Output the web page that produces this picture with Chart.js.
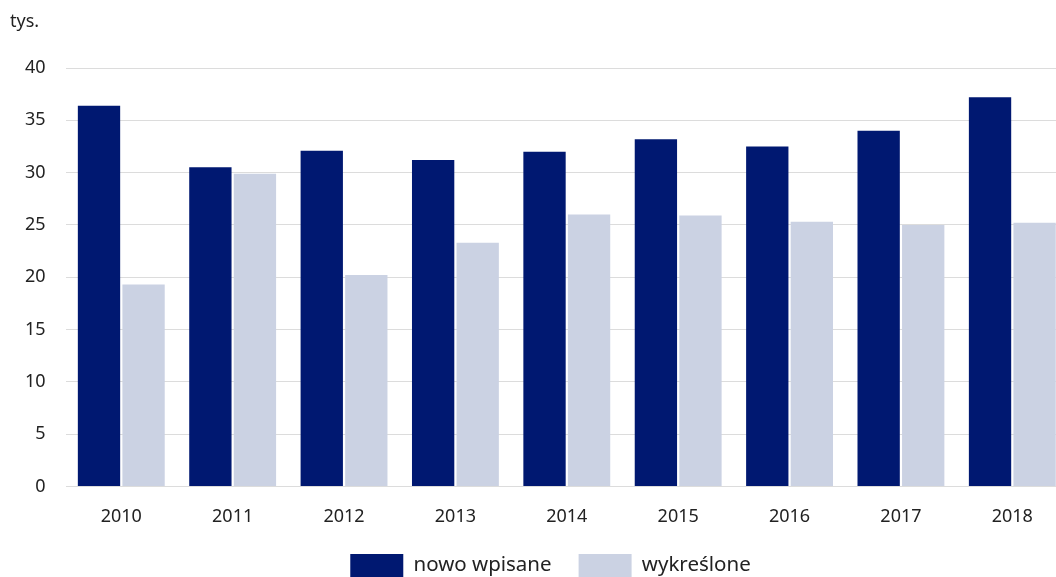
<!DOCTYPE html>
<html>
<head>
<meta charset="utf-8">
<script src="https://cdn.jsdelivr.net/npm/chart.js"></script>
<style>
  html, body { margin: 0; padding: 0; background: #fff; overflow: hidden; }
  /* plot runs slightly past the right edge, like the original */
  #wrap { width: 1068px; height: 577px; }
</style>
</head>
<body>
<div id="wrap"><canvas id="chart"></canvas></div>
<script>
const years = ["2010", "2011", "2012", "2013", "2014", "2015", "2016", "2017", "2018"];
const nowoWpisane = [36.4, 30.5, 32.1, 31.2, 32.0, 33.2, 32.5, 34.0, 37.2];
const wykreslone = [19.3, 29.9, 20.2, 23.3, 26.0, 25.9, 25.3, 25.0, 25.2];
const unitLabel = "tys.";

const FONT = "'Noto Sans', sans-serif";

// draws the unit label in the top-left corner, nudges legend a bit right
const unitPlugin = {
  id: "unitLabel",
  afterLayout(chart) {
    if (chart.legend) {
      chart.legend.left += 14;
      chart.legend.right += 14;
    }
  },
  afterDraw(chart) {
    const ctx = chart.ctx;
    ctx.save();
    ctx.font = "18px " + FONT;
    ctx.fillStyle = "#222";
    ctx.textBaseline = "middle";
    ctx.fillText(unitLabel, 10, 22);
    ctx.restore();
  }
};

const ctx = document.getElementById("chart").getContext("2d");
new Chart(ctx, {
  type: "bar",
  data: {
    labels: years,
    datasets: [
      { label: "nowo wpisane", data: nowoWpisane, backgroundColor: "#001871" },
      { label: "wykreślone", data: wykreslone, backgroundColor: "#cbd2e3" }
    ]
  },
  options: {
    responsive: true,
    maintainAspectRatio: false,
    animation: false,
    datasets: { bar: { categoryPercentage: 0.8, barPercentage: 0.95 } },
    layout: { padding: { top: 68, left: 5, right: 0, bottom: -10 } },
    scales: {
      x: {
        grid: { display: false },
        border: { display: false },
        ticks: { color: "#222", font: { family: FONT, size: 18 }, padding: 12 },
        afterFit(axis) { axis.height -= 13; }
      },
      y: {
        min: 0, max: 40,
        ticks: { stepSize: 5, color: "#222", font: { family: FONT, size: 18 }, padding: 20 },
        grid: { color: "#dcdcdc", drawTicks: false },
        border: { display: false }
      }
    },
    plugins: {
      legend: {
        position: "bottom",
        labels: {
          color: "#222",
          font: { family: FONT, size: 20.5 },
          boxWidth: 53, boxHeight: 23,
          padding: 27
        }
      },
      tooltip: { enabled: false }
    }
  },
  plugins: [unitPlugin]
});
</script>
</body>
</html>
